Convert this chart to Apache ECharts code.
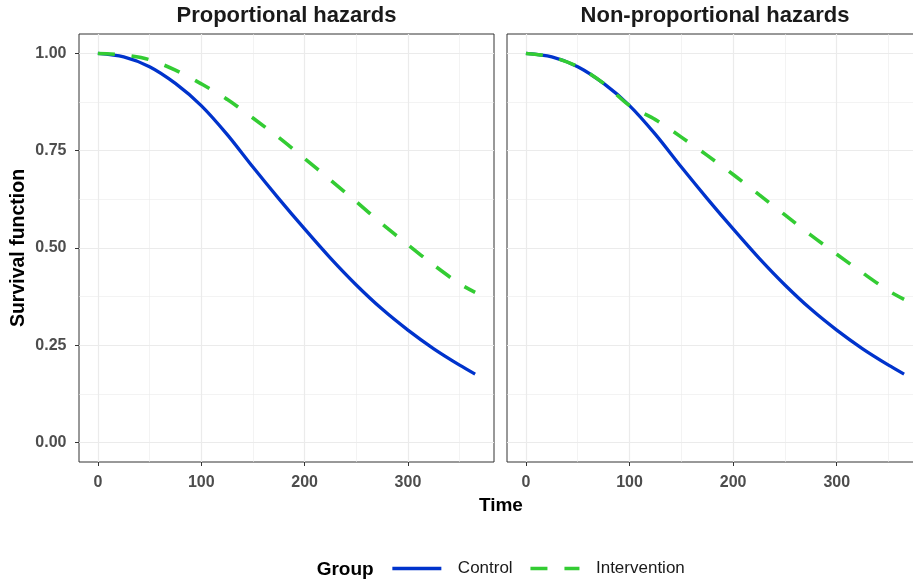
<!DOCTYPE html>
<html>
<head>
<meta charset="utf-8">
<script src="https://cdn.jsdelivr.net/npm/echarts@6/dist/echarts.min.js"></script>
<style>
html,body{margin:0;padding:0;background:#fff;overflow:hidden;width:913px;height:583px;}
#chart{width:940px;height:583px;}
</style>
</head>
<body>
<div id="chart"></div>
<script>
// ---- data ----
const time = [0, 25, 50, 75, 100, 125, 150, 175, 200, 225, 250, 275, 300, 325, 350, 365];
const controlS = [1.000, 0.991, 0.966, 0.923, 0.866, 0.792, 0.708, 0.627, 0.549, 0.474, 0.405, 0.343, 0.289, 0.241, 0.199, 0.176];
const interventionPH = [1.000, 0.996, 0.984, 0.957, 0.922, 0.882, 0.834, 0.784, 0.730, 0.675, 0.619, 0.562, 0.508, 0.456, 0.408, 0.386];
const interventionNPH = [1.000, 0.991, 0.966, 0.923, 0.866, 0.830, 0.785, 0.738, 0.689, 0.637, 0.585, 0.533, 0.484, 0.436, 0.390, 0.368];
const panelTitles = ['Proportional hazards', 'Non-proportional hazards'];
const groups = ['Control', 'Intervention'];
const xMajor = [0, 100, 200, 300];
const xMinor = [50, 150, 250, 350];
const yMajor = [0, 0.25, 0.5, 0.75, 1];
const yMinor = [0.125, 0.375, 0.625, 0.875];

const pairs = (ys) => time.map((t, i) => [t, ys[i]]);

const BLUE = '#0033cc', GREEN = '#33cc33';
const GRIDC = '#ebebeb';
const FONT = 'Liberation Sans, Arial, sans-serif';
const DASH = [17, 17];

const grids = [
  { left: 79, top: 34, width: 415, height: 428 },
  { left: 507, top: 34, width: 416, height: 428 }
];

function xAxes(gi) {
  return [
    {
      type: 'value', gridIndex: gi, min: -18.25, max: 383.25, position: 'bottom',
      axisLine: { show: false, onZero: false },
      axisTick: { show: true, inside: false, length: 4, customValues: xMajor, lineStyle: { color: '#333', width: 1 } },
      axisLabel: { show: true, customValues: xMajor, margin: 12.5, color: '#4d4d4d', fontWeight: 'bold', fontSize: 16, fontFamily: FONT },
      splitLine: { show: true, lineStyle: { color: GRIDC, width: 1.2 } }
    },
    {
      type: 'value', gridIndex: gi, min: -18.25, max: 383.25, position: 'top',
      axisLine: { show: false, onZero: false },
      axisTick: { show: false, customValues: xMinor },
      axisLabel: { show: false },
      splitLine: { show: true, lineStyle: { color: GRIDC, width: 0.6 } }
    }
  ];
}
function yAxes(gi, labels) {
  return [
    {
      type: 'value', gridIndex: gi, min: -0.05, max: 1.05, position: 'left',
      axisLine: { show: false, onZero: false },
      axisTick: { show: labels, inside: false, length: 4, customValues: yMajor, lineStyle: { color: '#333', width: 1 } },
      axisLabel: { show: labels, customValues: yMajor, margin: 12.5, color: '#4d4d4d', fontWeight: 'bold', fontSize: 16, fontFamily: FONT,
        formatter: v => Number(v).toFixed(2) },
      splitLine: { show: true, lineStyle: { color: GRIDC, width: 1.2 } }
    },
    {
      type: 'value', gridIndex: gi, min: -0.05, max: 1.05, position: 'right',
      axisLine: { show: false, onZero: false },
      axisTick: { show: false, customValues: yMinor },
      axisLabel: { show: false },
      splitLine: { show: true, lineStyle: { color: GRIDC, width: 0.6 } }
    }
  ];
}

function line(name, ys, axisIdx, color, dashed) {
  return {
    type: 'line', name: name, data: pairs(ys),
    xAxisIndex: axisIdx, yAxisIndex: axisIdx,
    smooth: 0.3, symbol: 'none', showSymbol: false, animation: false,
    lineStyle: { color: color, width: dashed ? 3.6 : 3.3, type: dashed ? DASH : 'solid', cap: 'butt' },
    itemStyle: { color: color },
    z: dashed ? 3 : 2
  };
}

const chart = echarts.init(document.getElementById('chart'), null, { renderer: 'canvas' });
chart.setOption({
  animation: false,
  backgroundColor: '#fff',
  grid: grids.map(g => Object.assign({ show: true, borderColor: '#333', borderWidth: 1, backgroundColor: '#fff', containLabel: false }, g)),
  xAxis: [].concat(xAxes(0), xAxes(1)),
  yAxis: [].concat(yAxes(0, true), yAxes(1, false)),
  legend: {
    data: [
      { name: groups[0], itemStyle: { opacity: 0 }, lineStyle: { color: BLUE, width: 3.3, type: 'solid' } },
      { name: groups[1], itemStyle: { opacity: 0 }, lineStyle: { color: GREEN, width: 3.6, type: DASH, cap: 'butt' } }
    ],
    left: 390.7, top: 560, padding: 0,
    itemWidth: 49, itemHeight: 14, itemGap: 16,
    textStyle: { fontSize: 17, color: '#1a1a1a', fontFamily: FONT, padding: [0, 0, 0, 11.5] },
    selectedMode: false
  },
  graphic: [
    { type: 'text', x: 286.5, y: 16.3, style: { text: panelTitles[0], font: 'bold 22px ' + FONT, fill: '#1a1a1a', align: 'center', verticalAlign: 'middle' } },
    { type: 'text', x: 715, y: 16.3, style: { text: panelTitles[1], font: 'bold 22px ' + FONT, fill: '#1a1a1a', align: 'center', verticalAlign: 'middle' } },
    { type: 'text', x: 500.9, y: 505.7, style: { text: 'Time', font: 'bold 19px ' + FONT, fill: '#000', align: 'center', verticalAlign: 'middle' } },
    { type: 'text', x: 19, y: 248, rotation: Math.PI / 2, style: { text: 'Survival function', font: 'bold 19.5px ' + FONT, fill: '#000', align: 'center', verticalAlign: 'middle' } },
    { type: 'text', x: 316.7, y: 570, style: { text: 'Group', font: 'bold 19px ' + FONT, fill: '#000', align: 'left', verticalAlign: 'middle' } }
  ],
  series: [
    line(groups[0], controlS, 0, BLUE, false),
    line(groups[1], interventionPH, 0, GREEN, true),
    line(groups[0], controlS, 2, BLUE, false),
    line(groups[1], interventionNPH, 2, GREEN, true)
  ]
});
</script>
</body>
</html>
